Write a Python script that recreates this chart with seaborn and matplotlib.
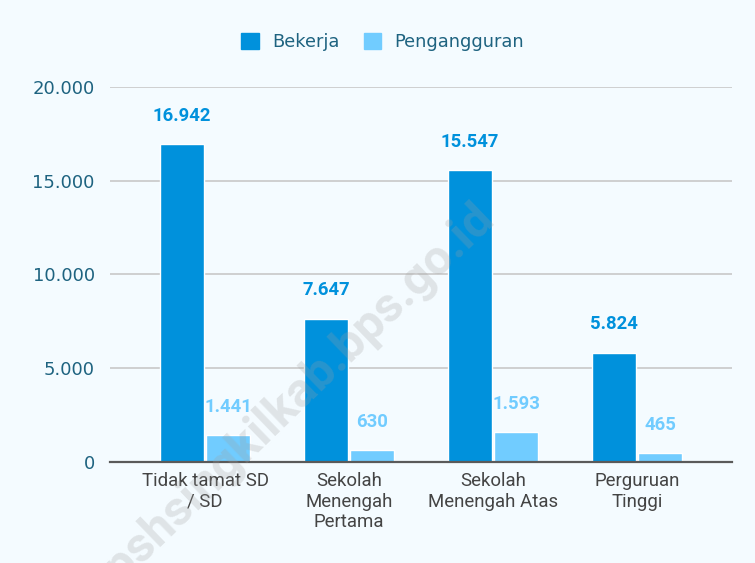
import pandas as pd
import numpy as np
import seaborn as sb
import matplotlib.pyplot as plt

# data
categories = ['Tidak tamat SD\n/ SD', 'Sekolah\nMenengah\nPertama', 'Sekolah\nMenengah Atas', 'Perguruan\nTinggi']
bekerja = [16942, 7647, 15547, 5824]
pengangguran = [1441, 630, 1593, 465]
series = ['Bekerja', 'Pengangguran']
yticks = [0, 5000, 10000, 15000, 20000]

colors = {'Bekerja': '#0091DC', 'Pengangguran': '#71CCFF'}
bg = '#F4FBFF'

data = pd.DataFrame({
    'kategori': categories * 2,
    'status': ['Bekerja'] * 4 + ['Pengangguran'] * 4,
    'jumlah': bekerja + pengangguran,
})

sb.set_style('white')
plt.rcParams['font.family'] = ['Roboto', 'DejaVu Sans']

fig = plt.figure(figsize=(7.55, 5.63), dpi=100, facecolor=bg)
ax = fig.add_axes([0.1457, 0.1794, 0.8238, 0.6661], facecolor=bg)

sb.barplot(data=data, x='kategori', y='jumlah', hue='status', palette=colors,
           width=0.64, gap=0.06, saturation=1, ax=ax, legend=False, zorder=2)

ax.set_xlim(-0.66, 3.66)
ax.set_ylim(0, 20000)
ax.set_yticks(yticks)
ax.set_yticklabels([f'{v:,}'.replace(',', '.') for v in yticks], color='#1E6380',
                   fontsize=13, family='DejaVu Sans')
ax.tick_params(axis='x', length=0, pad=7, labelsize=13.4, labelcolor='#444444')
ax.tick_params(axis='y', length=0, pad=11)
ax.set_xlabel('')
ax.set_ylabel('')
ax.grid(axis='y', color='#C8C8C8', lw=1.2, zorder=0)
for s in ['top', 'right', 'left']:
    ax.spines[s].set_visible(False)
ax.spines['bottom'].set_color('#5A5A5A')
ax.spines['bottom'].set_linewidth(1.6)
ax.spines['bottom'].set_zorder(3)

# label angka di atas batang
for cont, name in zip(ax.containers, series):
    labels = [f'{int(v):,}'.replace(',', '.') for v in cont.datavalues]
    ax.bar_label(cont, labels=labels, padding=14, fontsize=13.3, fontweight='bold',
                 color=colors[name])

# legenda
handles = [plt.Rectangle((0, 0), 1, 1, color=colors[n]) for n in series]
fig.legend(handles, series, loc='center', bbox_to_anchor=(0.507, 0.925), ncol=2,
           frameon=False, prop={'family': 'DejaVu Sans', 'size': 12.75},
           handlelength=1.0, handleheight=1.0,
           columnspacing=1.35, handletextpad=0.75, labelcolor='#1E6380')

# watermark
fig.text(0.384, 0.286, 'bpshsingkilkab.bps.go.id', rotation=44, fontsize=35,
         fontweight='bold', color='#A0A0A0', alpha=0.25, ha='center', va='center')

fig.savefig('out.png', dpi=100, facecolor=bg)
